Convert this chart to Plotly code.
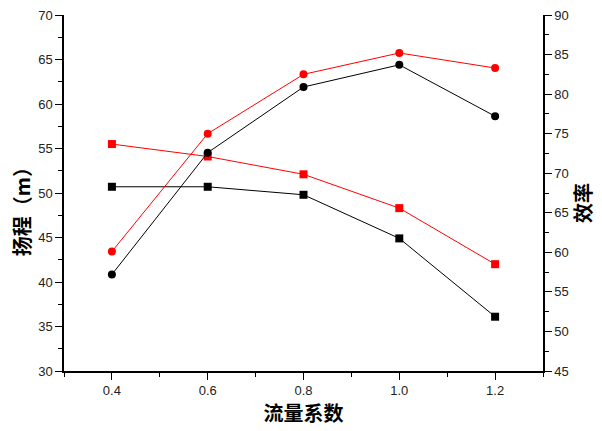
import plotly.graph_objects as go

flow = [0.4, 0.6, 0.8, 1.0, 1.2]
head_black = [50.7, 50.7, 49.8, 44.9, 36.1]
head_red = [55.5, 54.1, 52.1, 48.3, 42.0]
eff_black = [57.2, 72.6, 80.9, 83.7, 77.2]
eff_red = [60.1, 75.0, 82.5, 85.2, 83.3]

fig = go.Figure()
fig.add_trace(go.Scatter(x=flow, y=head_black, mode="lines+markers",
                         line=dict(color="black", width=1),
                         marker=dict(symbol="square", size=8, color="black"), yaxis="y"))
fig.add_trace(go.Scatter(x=flow, y=head_red, mode="lines+markers",
                         line=dict(color="red", width=1),
                         marker=dict(symbol="square", size=8, color="red"), yaxis="y"))
fig.add_trace(go.Scatter(x=flow, y=eff_black, mode="lines+markers",
                         line=dict(color="black", width=1),
                         marker=dict(symbol="circle", size=8, color="black"), yaxis="y2"))
fig.add_trace(go.Scatter(x=flow, y=eff_red, mode="lines+markers",
                         line=dict(color="red", width=1),
                         marker=dict(symbol="circle", size=8, color="red"), yaxis="y2"))

tickfont = dict(family="Liberation Sans, Arial", size=13, color="#222")
titlefont = dict(family="Noto Sans CJK SC", size=20, color="black", weight="bold")

fig.update_layout(
    width=594, height=423,
    margin=dict(l=56, r=59, t=7, b=60, autoexpand=False),
    paper_bgcolor="white", plot_bgcolor="white",
    showlegend=False,
    xaxis=dict(range=[0.3, 1.3], tick0=0.4, dtick=0.2, tickformat=".1f",
               showline=True, linecolor="black", linewidth=1.5,
               ticks="outside", ticklen=7, tickcolor="black",
               minor=dict(dtick=0.1, tick0=0.3, ticks="outside", ticklen=4, tickcolor="black"),
               showgrid=False, zeroline=False, tickfont=tickfont, automargin=False,
               ticklabeloverflow="allow",
               title=dict(text="流量系数", font=dict(family="Noto Sans CJK SC", size=20, color="black", weight="bold"), standoff=7)),
    yaxis=dict(range=[30, 70], dtick=5,
               showline=True, linecolor="black", linewidth=1.5,
               ticks="outside", ticklen=7, tickcolor="black",
               minor=dict(dtick=2.5, ticks="outside", ticklen=4, tickcolor="black"),
               showgrid=False, zeroline=False, tickfont=tickfont, automargin=False,
               ticklabeloverflow="allow"),
    yaxis2=dict(range=[45, 90], dtick=5, overlaying="y", side="right",
                showline=True, linecolor="black", linewidth=1.5,
                ticks="outside", ticklen=7, tickcolor="black",
                minor=dict(dtick=2.5, ticks="outside", ticklen=4, tickcolor="black"),
                showgrid=False, zeroline=False, tickfont=tickfont, automargin=False,
                ticklabeloverflow="allow"),
    annotations=[
        dict(text="扬程（m）", xref="paper", yref="paper", x=-0.087, y=0.461,
             xanchor="center", yanchor="middle", textangle=-90, showarrow=False, font=titlefont),
        dict(text="效率", xref="paper", yref="paper", x=1.0835, y=0.472,
             xanchor="center", yanchor="middle", textangle=-90, showarrow=False, font=titlefont),
    ],
)

fig.write_html("out.html")
